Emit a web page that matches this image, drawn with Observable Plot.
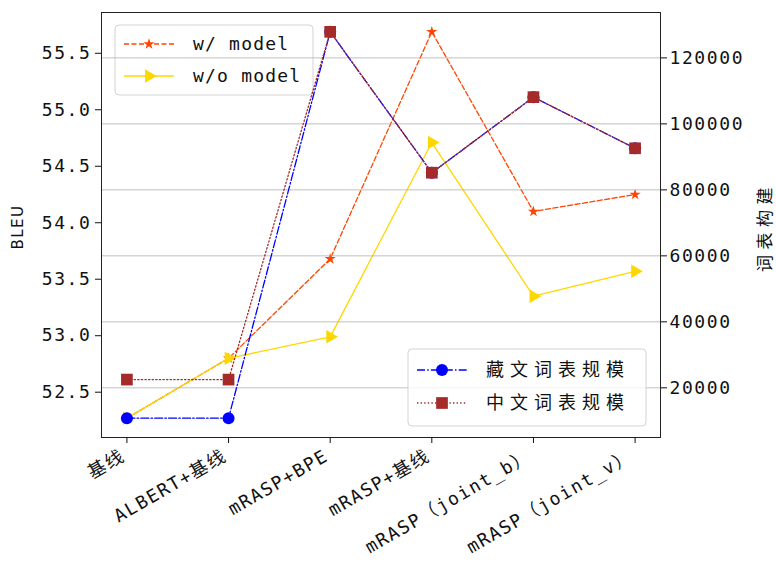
<!DOCTYPE html>
<html><head><meta charset="utf-8">
<script src="https://cdn.jsdelivr.net/npm/d3@7"></script>
<script src="https://cdn.jsdelivr.net/npm/@observablehq/plot@0.6"></script>
<style>
body{margin:0;background:#fff;}
#chart{position:relative;width:776px;height:569px;overflow:hidden;}
.ylab{position:absolute;white-space:nowrap;transform-origin:center center;}
</style></head><body><div id="chart"></div>
<script>
const categories = ["基线", "ALBERT+基线", "mRASP+BPE", "mRASP+基线", "mRASP（joint_b）", "mRASP（joint_v）"];
const bleuWithModel = [52.27, 52.80, 53.68, 55.69, 54.10, 54.25];
const bleuWithoutModel = [52.27, 52.80, 52.99, 54.71, 53.35, 53.57];
const vocabTibetan = [10800, 10800, 127900, 85200, 108100, 92600];
const vocabChinese = [22500, 22500, 127900, 85200, 108100, 92600];
const bleuTicks = [52.5, 53.0, 53.5, 54.0, 54.5, 55.0, 55.5];
const vocabTicks = [20000, 40000, 60000, 80000, 100000, 120000];
const seriesNames = ["w/ model", "w/o model", "藏文词表规模", "中文词表规模"];
const yLabelLeft = "BLEU";
const yLabelRight = "词表构建";

const idx = d3.range(categories.length);
function padded(vals) { const e = d3.extent(vals); const p = 0.05 * (e[1] - e[0]); return [e[0] - p, e[1] + p]; }
const bleuDomain = padded([...bleuWithModel, ...bleuWithoutModel]);
const vocabDomain = padded([...vocabTibetan, ...vocabChinese]);
const toB = v => bleuDomain[0] + (v - vocabDomain[0]) / (vocabDomain[1] - vocabDomain[0]) * (bleuDomain[1] - bleuDomain[0]);

const C = {w: "#ff4500", wo: "#ffd700", tib: "#0000ff", zh: "#a52a2a"};
const mono = "'DejaVu Sans Mono', 'Noto Sans CJK SC', monospace";
const cjk = "'Noto Sans CJK SC', sans-serif";

const triangleRight = {
  draw(ctx, size) {
    const y = -Math.sqrt(size / (3 * Math.sqrt(3)));
    ctx.moveTo(-2 * y, 0);
    ctx.lineTo(y, -Math.sqrt(3) * y);
    ctx.lineTo(y, Math.sqrt(3) * y);
    ctx.closePath();
  }
};

const R = {star: 3.5, tri: 5, circle: 6, square: 6.6};

function legend(box, rows, textFont, textSize, spacing) {
  return () => {
    const g = d3.create("svg:g");
    g.append("rect").attr("x", box[0]).attr("y", box[1]).attr("width", box[2]).attr("height", box[3])
      .attr("rx", 4).attr("fill", "white").attr("fill-opacity", 0.8).attr("stroke", "#d3d3d3").attr("stroke-width", 1);
    for (const r of rows) {
      g.append("line").attr("x1", box[0] + 9).attr("x2", box[0] + 59).attr("y1", r.y).attr("y2", r.y)
        .attr("stroke", r.color).attr("stroke-width", 1.3).attr("stroke-dasharray", r.dash);
      g.append("path").attr("transform", `translate(${box[0] + 34},${r.y})`)
        .attr("d", d3.symbol().type(r.symbol).size(Math.PI * r.r * r.r)()).attr("fill", r.color);
      g.append("text").attr("x", box[0] + 78).attr("y", r.y).attr("dy", "0.35em")
        .attr("text-anchor", "start")
        .attr("font-family", textFont).attr("font-size", textSize).attr("letter-spacing", spacing)
        .attr("fill", "#111").text(r.label);
    }
    return g.node();
  };
}

const chart = Plot.plot({
  width: 776, height: 569,
  marginLeft: 101, marginRight: 116, marginTop: 12, marginBottom: 132,
  style: {fontFamily: mono, fontSize: "18px", letterSpacing: "1.6px", background: "white", color: "#111"},
  x: {type: "linear", domain: [-0.25, categories.length - 0.75], axis: null},
  y: {domain: bleuDomain, axis: null},
  marks: [
    Plot.line(idx, {x: i => i, y: i => bleuWithModel[i], stroke: C.w, strokeWidth: 1.3, strokeDasharray: "5,2.5"}),
    Plot.dot(idx, {x: i => i, y: i => bleuWithModel[i], symbol: "star", r: R.star, fill: C.w}),
    Plot.line(idx, {x: i => i, y: i => bleuWithoutModel[i], stroke: C.wo, strokeWidth: 1.3}),
    Plot.dot(idx, {x: i => i, y: i => bleuWithoutModel[i], symbol: triangleRight, r: R.tri, fill: C.wo}),
    legend([115, 25, 198, 70], [
      {y: 44, color: C.w, dash: "5,2.5", symbol: d3.symbolStar, r: R.star, label: seriesNames[0]},
      {y: 76, color: C.wo, dash: null, symbol: triangleRight, r: R.tri, label: seriesNames[1]}
    ], mono, 18, 1.2),
    Plot.ruleY(vocabTicks, {y: toB, stroke: "#b0b0b0", strokeWidth: 0.8}),
    Plot.line(idx, {x: i => i, y: i => toB(vocabTibetan[i]), stroke: C.tib, strokeWidth: 1.3, strokeDasharray: "8,2.2,1.5,2.2"}),
    Plot.dot(idx, {x: i => i, y: i => toB(vocabTibetan[i]), symbol: "circle", r: R.circle, fill: C.tib}),
    Plot.line(idx, {x: i => i, y: i => toB(vocabChinese[i]), stroke: C.zh, strokeWidth: 1.3, strokeDasharray: "1.4,2.2"}),
    Plot.dot(idx, {x: i => i, y: i => toB(vocabChinese[i]), symbol: "square", r: R.square, fill: C.zh}),
    legend([408, 349, 238, 77], [
      {y: 370, color: C.tib, dash: "8,2.2,1.5,2.2", symbol: d3.symbolCircle, r: R.circle, label: seriesNames[2]},
      {y: 403, color: C.zh, dash: "1.4,2.2", symbol: d3.symbolSquare, r: R.square, label: seriesNames[3]}
    ], cjk, 18, 6),
    Plot.frame({stroke: "#222", strokeWidth: 1}),
    Plot.axisY({anchor: "left", ticks: bleuTicks, tickFormat: d3.format(".1f"), tickSize: 6, tickPadding: 4, label: null, fontSize: 18}),
    Plot.axisY({anchor: "right", ticks: vocabTicks.map(toB), tickFormat: (d, i) => String(vocabTicks[i]), tickSize: 6, tickPadding: 3, label: null, fontSize: 18}),
    Plot.axisX({ticks: idx, tickFormat: () => "", tickSize: 6, label: null}),
    Plot.text(idx, {x: i => i, text: i => categories[i], frameAnchor: "bottom", dy: 11, dx: -7, rotate: -30, textAnchor: "end", lineAnchor: "top", fontSize: 18, fontFamily: mono, fill: "#111"})
  ]
});
const host = document.getElementById("chart");
host.appendChild(chart);
const l1 = document.createElement("div");
l1.className = "ylab"; l1.textContent = yLabelLeft;
l1.style.cssText += "font-family:'DejaVu Sans',sans-serif;font-size:15px;letter-spacing:1.5px;color:#111;left:18px;top:227px;transform:translate(-50%,-50%) rotate(-90deg);";
host.appendChild(l1);
const l2 = document.createElement("div");
l2.className = "ylab"; l2.textContent = yLabelRight;
l2.style.cssText += "font-family:'Noto Sans CJK SC',sans-serif;font-size:17px;letter-spacing:5.5px;color:#111;left:763px;top:227px;transform:translate(-50%,-50%) rotate(-90deg);";
host.appendChild(l2);
</script></body></html>
